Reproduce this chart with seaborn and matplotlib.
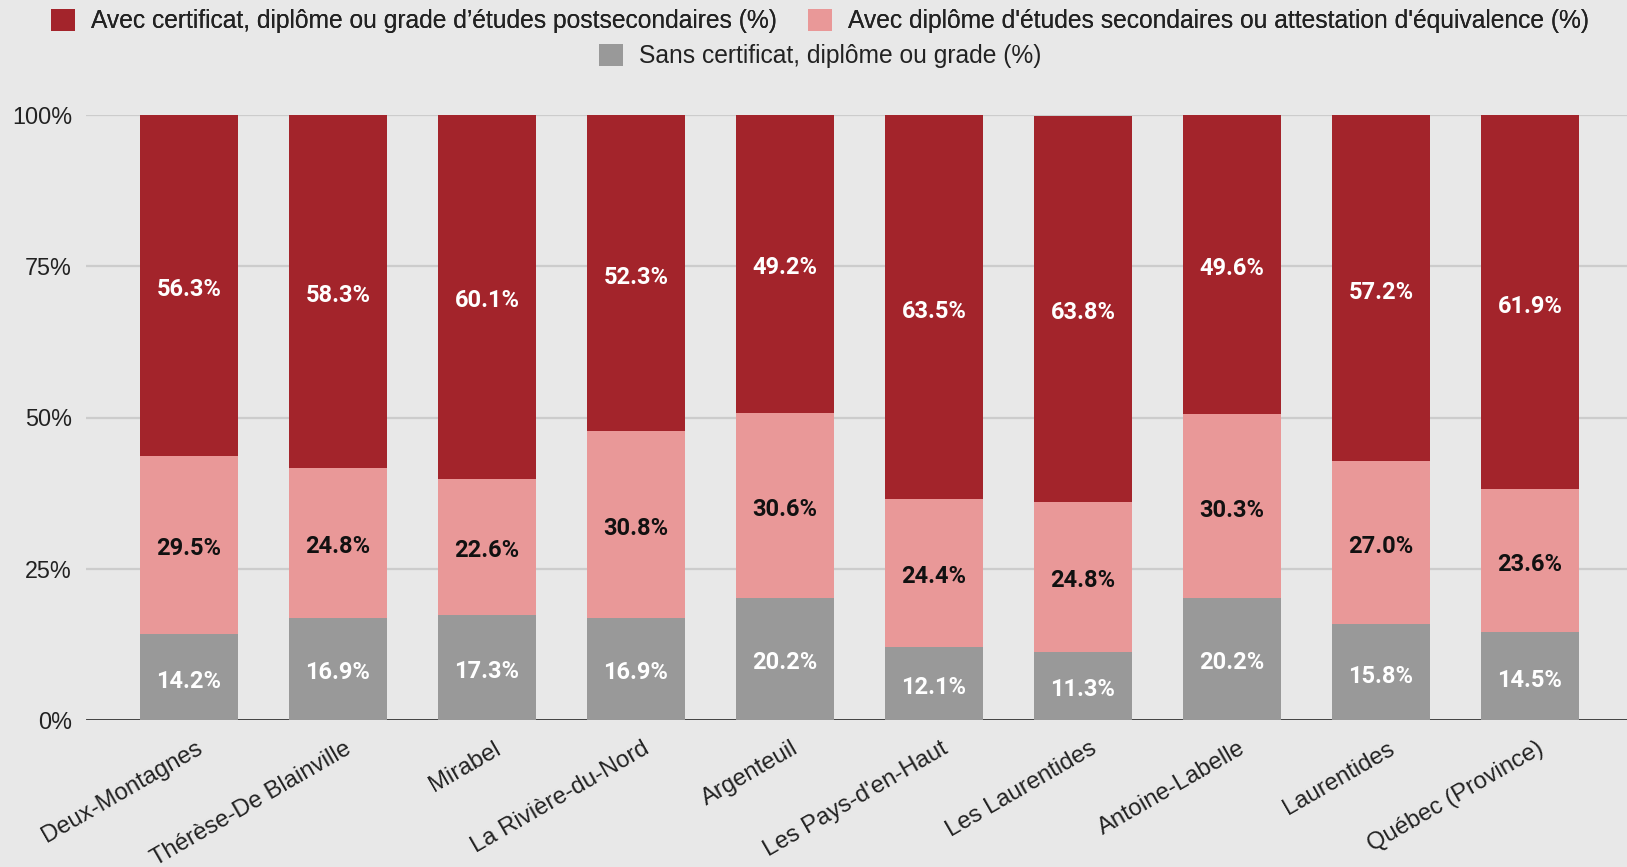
import numpy as np
import pandas as pd
import matplotlib
matplotlib.use("Agg")
import matplotlib.pyplot as plt
from matplotlib.patches import Patch
from matplotlib.transforms import ScaledTranslation
import seaborn as sns

# Territories compared
regions = [
    "Deux-Montagnes", "Thérèse-De Blainville", "Mirabel", "La Rivière-du-Nord",
    "Argenteuil", "Les Pays-d'en-Haut", "Les Laurentides", "Antoine-Labelle",
    "Laurentides", "Québec (Province)",
]

# Share of population by highest level of schooling (%)
postsecondaire = [56.3, 58.3, 60.1, 52.3, 49.2, 63.5, 63.8, 49.6, 57.2, 61.9]
secondaire = [29.5, 24.8, 22.6, 30.8, 30.6, 24.4, 24.8, 30.3, 27.0, 23.6]
sans_diplome = [14.2, 16.9, 17.3, 16.9, 20.2, 12.1, 11.3, 20.2, 15.8, 14.5]

series_labels = [
    "Avec certificat, diplôme ou grade d’études postsecondaires (%)",
    "Avec diplôme d'études secondaires ou attestation d'équivalence (%)",
    "Sans certificat, diplôme ou grade (%)",
]
y_ticks = [0, 25, 50, 75, 100]
y_tick_labels = ["0%", "25%", "50%", "75%", "100%"]

C_POST = "#a3242b"
C_SEC = "#e99898"
C_SANS = "#999999"
BG = "#e8e8e8"

df = pd.DataFrame({
    "region": regions,
    "sans": sans_diplome,
    "sec": secondaire,
    "post": postsecondaire,
})
df["top_sans"] = df["sans"]
df["top_sec"] = df["sans"] + df["sec"]
df["top_post"] = df["sans"] + df["sec"] + df["post"]

sns.set_theme(style="white")
plt.rcParams["font.family"] = ["Liberation Sans", "DejaVu Sans"]

W, H = 1627, 867
fig = plt.figure(figsize=(W / 100, H / 100), dpi=100, facecolor=BG)
ax = fig.add_axes([86 / W, 1 - 720 / H, (W - 86) / W, (720 - 115) / H])
ax.set_facecolor(BG)

# Stacked bars: draw cumulative totals from the tallest down
for col, color in [("top_post", C_POST), ("top_sec", C_SEC), ("top_sans", C_SANS)]:
    sns.barplot(data=df, x="region", y=col, color=color, saturation=1,
                width=0.66, ax=ax, zorder=3, linewidth=0, errorbar=None)

ax.set_xlim(-0.691, 9.651)
ax.set_ylim(0, 100)
ax.set_xlabel("")
ax.set_ylabel("")
for s in ax.spines.values():
    s.set_visible(False)

# Gridlines and baseline
for t in y_ticks[1:]:
    ax.axhline(t, color="#cccccc", lw=1.6, zorder=1)
ax.axhline(0, color="#333333", lw=2.0, zorder=2)

ax.set_yticks(y_ticks)
ax.set_yticklabels(y_tick_labels)
ax.tick_params(axis="y", length=0, pad=10, labelsize=16.8, labelcolor="#222222")
ax.tick_params(axis="x", length=0, pad=0, labelsize=17.2, labelcolor="#222222")

ax.set_xticks(range(len(regions)))
ax.set_xticklabels(regions, rotation=30, ha="right", va="center",
                   rotation_mode="anchor")
shift = ScaledTranslation(12 / 100, -27 / 100, fig.dpi_scale_trans)
for lab in ax.get_xticklabels():
    lab.set_transform(lab.get_transform() + shift)

# Segment value labels
lab_font = dict(family=["Roboto", "DejaVu Sans"], fontweight="bold",
                fontsize=17, ha="center", va="center", zorder=5)
down = ScaledTranslation(0, -4 / 100, fig.dpi_scale_trans)
for i in range(len(regions)):
    s, m, p = sans_diplome[i], secondaire[i], postsecondaire[i]
    for y, val, col in [(s / 2, s, "white"), (s + m / 2, m, "#111111"),
                        (s + m + p / 2, p, "white")]:
        ax.text(i, y, f"{val:.1f}%", color=col,
                transform=ax.transData + down, **lab_font)

# Legend: two items on the first row, one centred on the second
handles = [Patch(facecolor=c, edgecolor="none") for c in (C_POST, C_SEC, C_SANS)]
fs = 17.7
px = fs * 100 / 72
leg_kw = dict(frameon=False, fontsize=fs, handlelength=24 / px, handleheight=24 / px,
              handletextpad=16 / px, columnspacing=31 / px, borderpad=0,
              borderaxespad=0, labelcolor="#222222", loc="center")
leg1 = fig.legend(handles[:2], series_labels[:2], ncol=2,
                  bbox_to_anchor=(820 / W, 1 - 21 / H), **leg_kw)
fig.add_artist(leg1)
fig.legend(handles[2:], series_labels[2:], ncol=1,
           bbox_to_anchor=(820 / W, 1 - 56 / H), **leg_kw)

fig.savefig("out.png", dpi=100, facecolor=BG)
